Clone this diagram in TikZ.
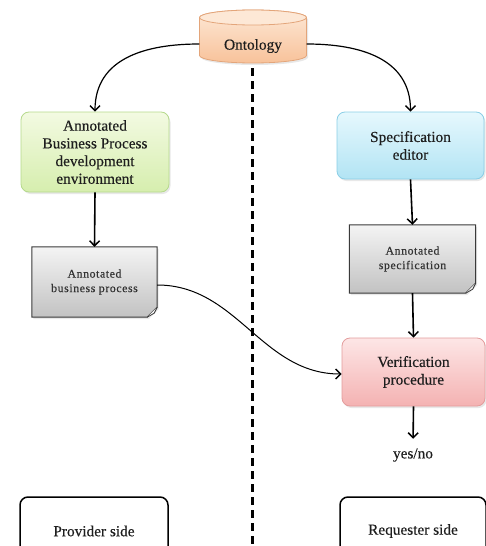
\documentclass[tikz,border=0pt]{standalone}
\usepackage{fontspec}
\setmainfont{Liberation Serif}[FakeBold=0.35]
\newfontfamily\docfont[LetterSpace=5,FakeBold=0.5]{Liberation Serif}
\usetikzlibrary{arrows.meta,shadows,backgrounds,calc}
\definecolor{ontB}{HTML}{E3A57A}\definecolor{ontT}{HTML}{FDE8D6}\definecolor{ontL}{HTML}{F8C29A}
\definecolor{grnB}{HTML}{B5D98C}\definecolor{grnT}{HTML}{F3FAE2}\definecolor{grnL}{HTML}{D6EEAE}
\definecolor{bluB}{HTML}{8ACEE6}\definecolor{bluT}{HTML}{E6F8FD}\definecolor{bluL}{HTML}{B2E4F4}
\definecolor{pnkB}{HTML}{E39C9C}\definecolor{pnkT}{HTML}{FDE6E6}\definecolor{pnkL}{HTML}{F4B2B2}
\definecolor{docB}{HTML}{3A3A3A}\definecolor{docT}{HTML}{F4F4F4}\definecolor{docL}{HTML}{C2C2C2}
\definecolor{txtC}{HTML}{1E1E1E}
\begin{document}
\begin{tikzpicture}[x=1pt,y=-1pt,
  txt/.style={font=\fontsize{15.3}{17.7}\selectfont, align=center, text=txtC},
  proc/.style={txt, rounded corners=8pt, line width=0.8pt, inner sep=2pt,
     drop shadow={opacity=0.18, shadow xshift=1.5pt, shadow yshift=-2pt}},
  doctxt/.style={font=\docfont\fontsize{11.8}{14.5}\selectfont, align=center, text=black!80},
  docshape/.style={draw=docB, line width=1pt, top color=docT, bottom color=docL,
     drop shadow={opacity=0.18, shadow xshift=1.5pt, shadow yshift=-2pt}},
  sidebox/.style={txt, draw=black, line width=1.5pt, rounded corners=8pt, fill=white},
  arr/.style={-{Straight Barb[length=5pt,width=10pt,line width=1.5pt]}, line width=1.6pt, black},
  carr/.style={-{Straight Barb[length=5pt,width=10pt,line width=1.4pt]}, line width=1.2pt, black},
]
\useasboundingbox (0,0) rectangle (486,546);
\clip (0,0) rectangle (486,546);

% divider
\coordinate (dtop) at (252,68);
\coordinate (dbot) at (252,550);
\draw[line width=3pt, dash pattern=on 8pt off 5pt] (dtop) -- (dbot);

% ontology cylinder
\node[txt, minimum width=107pt, minimum height=34pt, inner sep=0pt] (ont) at (253,46) {Ontology};
\begin{scope}[on background layer]
\shade[top color=ontT, bottom color=ontL, draw=ontB, line width=0.8pt,
  drop shadow={opacity=0.18, shadow xshift=1.5pt, shadow yshift=-2pt}]
  (199.5,17.5) -- (199.5,55.5) arc[start angle=180,end angle=0,x radius=53.5,y radius=7.5]
  -- (306.5,17.5) arc[start angle=0,end angle=-180,x radius=53.5,y radius=7.5] -- cycle;
\filldraw[draw=ontB, fill=ontT, line width=0.8pt] (253,17.5) ellipse[x radius=53.5, y radius=7.5];
\end{scope}

% process boxes
\node[proc, draw=grnB, top color=grnT, bottom color=grnL, minimum width=148pt, minimum height=80pt] (abpde) at (95,152)
  {Annotated\\Business Process\\development\\environment};
\node[proc, draw=bluB, top color=bluT, bottom color=bluL, minimum width=147pt, minimum height=67pt] (spec) at (410.5,145.5)
  {Specification\\editor};
\node[proc, draw=pnkB, top color=pnkT, bottom color=pnkL, minimum width=143pt, minimum height=68pt] (verif) at (413.5,372)
  {Verification\\procedure};
\node[txt] (yn) at (413,455) {yes/no};

% documents
\node[doctxt, minimum width=125pt, minimum height=70pt] (abp) at (94.5,282) {Annotated\\business process};
\node[doctxt, minimum width=126pt, minimum height=68pt] (sdoc) at (412.5,259) {Annotated\\specification};
\begin{scope}[on background layer]
\foreach \d in {abp,sdoc}{
  \path[docshape] (\d.north west) -- (\d.north east) -- ([yshift=10pt]\d.south east)
     -- ([xshift=-10pt]\d.south east) -- (\d.south west) -- cycle;
  \filldraw[draw=docB, fill=docT, line width=0.8pt] ([yshift=10pt]\d.south east)
     -- ([xshift=-3pt,yshift=4pt]\d.south east) -- ([xshift=-10pt]\d.south east);
}
\end{scope}

% side boxes
\node[sidebox, minimum width=148pt, minimum height=68pt] (prov) at (94,531) {Provider side};
\node[sidebox, minimum width=146pt, minimum height=68pt] (req) at (413,531) {Requester side};

% connectors
\draw[carr] ([yshift=2pt]ont.west) to[out=180,in=90,looseness=1.1] (abpde.north);
\draw[carr] ([yshift=2pt]ont.east) to[out=0,in=90,looseness=1.1] (spec.north);
\draw[arr] (abpde.south) -- (abp.north);
\draw[arr] (spec.south) -- (sdoc.north);
\draw[arr] (sdoc.south) -- (verif.north);
\draw[carr, line width=1pt] ([yshift=-3pt]abp.east) to[out=0,in=180] ([yshift=-2pt]verif.west);
\draw[arr, shorten >=6pt] (verif.south) -- (yn.north);
\end{tikzpicture}
\end{document}
